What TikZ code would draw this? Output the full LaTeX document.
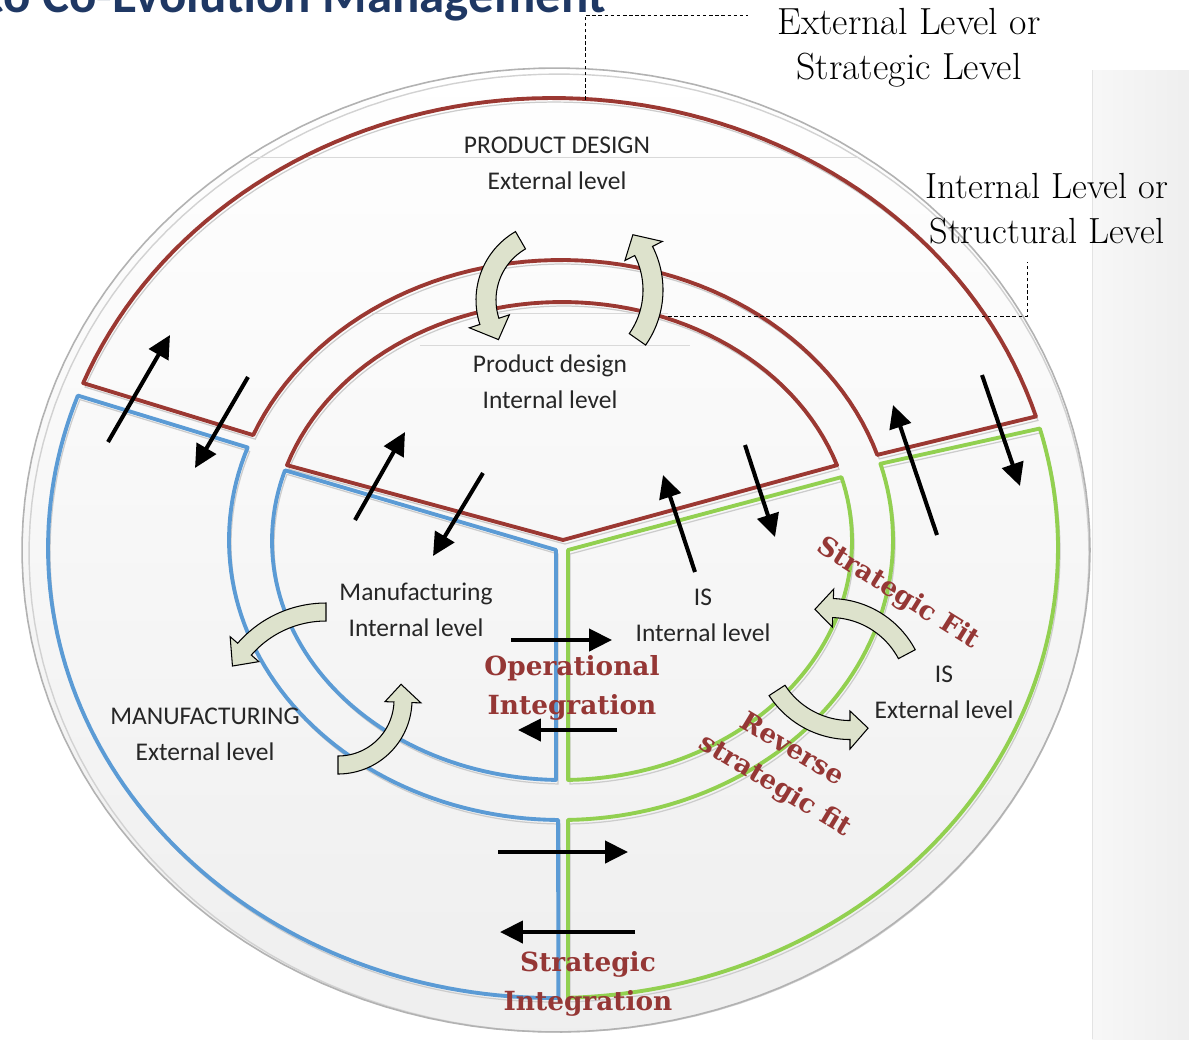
\documentclass[tikz,border=0pt]{standalone}
\usepackage{fontspec}
\newfontfamily\calfont{Carlito}
\newfontfamily\redfont{DejaVu Serif}
\usetikzlibrary{arrows.meta}
\definecolor{pdred}{RGB}{155,56,50}
\definecolor{txtred}{RGB}{149,55,53}
\definecolor{mfblue}{RGB}{91,155,213}
\definecolor{isgreen}{RGB}{146,208,80}
\definecolor{bentfill}{RGB}{221,226,204}
\definecolor{titleblue}{RGB}{31,56,100}
\newcommand\bentarrow[8]{%
  \draw[bentstyle] plot[domain=#4:#5,samples=30] ({#1+(#3+#7/2)*cos(\x)},{#2+(#3+#7/2)*sin(\x)})
   -- ({#1+(#3+#8/2)*cos(#5)},{#2+(#3+#8/2)*sin(#5)})
   -- ({#1+#3*cos(#6)},{#2+#3*sin(#6)})
   -- ({#1+(#3-#8/2)*cos(#5)},{#2+(#3-#8/2)*sin(#5)})
   -- plot[domain=#5:#4,samples=30] ({#1+(#3-#7/2)*cos(\x)},{#2+(#3-#7/2)*sin(\x)})
   -- cycle;}
\begin{document}
\begin{tikzpicture}[x=0.02cm,y=-0.02cm,
  band/.style={line width=2.2pt, line join=round},
  barrow/.style={-{Triangle[length=13pt,width=12.5pt]}, line width=2.3pt, black},
  bentstyle/.style={draw=black, fill=bentfill, line width=0.6pt, line join=miter},
  leader/.style={draw=black, line width=0.5pt, dash pattern=on 2pt off 1.5pt},
  faint/.style={draw=gray!30, line width=0.5pt},
  lbl/.style={font=\calfont\fontsize{14.5}{20.5}\selectfont, align=center, inner sep=0pt, text=black!85},
  serlbl/.style={font=\fontsize{21.5}{25.5}\selectfont, align=center, inner sep=0pt},
  redlbl/.style={font=\redfont\bfseries\fontsize{15}{22}\selectfont, align=center, inner sep=0pt, text=txtred}]
\useasboundingbox (0,0) rectangle (1189,1039);
\clip (0,0) rectangle (1189,1039);
% background
\fill[white] (0,0) rectangle (1189,1039);
\fill[left color=gray!6, right color=gray!13] (1092,70) rectangle (1189,1039);
\draw[gray!22, line width=0.5pt] (1092,70) -- (1092,1039);
% outer disc
\path[top color=white, bottom color=gray!13] plot[domain=0:360,samples=150] ({556+534*cos(\x)},{550+482*sin(\x)}) -- cycle;
\draw[gray!35, line width=0.8pt] plot[domain=0:360,samples=150] ({559+530*cos(\x)},{553+479*sin(\x)}) -- cycle;
\draw[gray!60, line width=0.9pt] plot[domain=0:360,samples=150] ({556+534*cos(\x)},{550+482*sin(\x)}) -- cycle;
% faint text-box edges
\draw[faint] (250,157) -- (858,157);
\draw[faint] (372,313) -- (668,313);
\draw[faint] (420,345) -- (690,345);
% shadows of bands
\begin{scope}[shift={(2,4)}]
\draw[gray!40, line width=0.7pt] plot[domain=201.5:343,samples=80] ({553+505*cos(\x)},{548+450*sin(\x)}) -- plot[domain=342.3:202,samples=60] ({561+332*cos(\x)},{540+280*sin(\x)}) -- cycle;
\draw[gray!40, line width=0.7pt] plot[domain=199.8:89.4,samples=80] ({553+505*cos(\x)},{548+450*sin(\x)}) -- plot[domain=90.5:199.3,samples=60] ({561+332*cos(\x)},{540+280*sin(\x)}) -- cycle;
\draw[gray!40, line width=0.7pt] plot[domain=88.3:-15.4,samples=80] ({553+505*cos(\x)},{548+450*sin(\x)}) -- plot[domain=-15.8:88.8,samples=60] ({561+332*cos(\x)},{540+280*sin(\x)}) -- cycle;
\draw[gray!40, line width=0.7pt] plot[domain=198.5:341.5,samples=60] ({562+290*cos(\x)},{541+239*sin(\x)}) -- (563,540) -- cycle;
\draw[gray!40, line width=0.7pt] (556,550) -- plot[domain=197.2:91.2,samples=60] ({562+290*cos(\x)},{541+239*sin(\x)}) -- cycle;
\draw[gray!40, line width=0.7pt] (568,550) -- plot[domain=-15.5:88.8,samples=60] ({562+290*cos(\x)},{541+239*sin(\x)}) -- cycle;
\end{scope}
% product design bands (red)
\draw[band, pdred] plot[domain=201.5:343,samples=80] ({553+505*cos(\x)},{548+450*sin(\x)}) -- plot[domain=342.3:202,samples=60] ({561+332*cos(\x)},{540+280*sin(\x)}) -- cycle;
\draw[band, pdred] plot[domain=198.5:341.5,samples=60] ({562+290*cos(\x)},{541+239*sin(\x)}) -- (563,540) -- cycle;
% manufacturing bands (blue)
\draw[band, mfblue] plot[domain=199.8:89.4,samples=80] ({553+505*cos(\x)},{548+450*sin(\x)}) -- plot[domain=90.5:199.3,samples=60] ({561+332*cos(\x)},{540+280*sin(\x)}) -- cycle;
\draw[band, mfblue] (556,550) -- plot[domain=197.2:91.2,samples=60] ({562+290*cos(\x)},{541+239*sin(\x)}) -- cycle;
% IS bands (green)
\draw[band, isgreen] plot[domain=88.3:-15.4,samples=80] ({553+505*cos(\x)},{548+450*sin(\x)}) -- plot[domain=-15.8:88.8,samples=60] ({561+332*cos(\x)},{540+280*sin(\x)}) -- cycle;
\draw[band, isgreen] (568,550) -- plot[domain=-15.5:88.8,samples=60] ({562+290*cos(\x)},{541+239*sin(\x)}) -- cycle;
% leader lines
\coordinate (la1) at (585,100); \coordinate (la2) at (585,15); \coordinate (la3) at (748,15);
\draw[leader] (la1) -- (la2) -- (la3);
\coordinate (lb1) at (668,316); \coordinate (lb2) at (1027,316); \coordinate (lb3) at (1027,262);
\draw[leader] (lb1) -- (lb2) -- (lb3);
% straight arrows
\coordinate (s1a) at (108,442); \coordinate (s1b) at (170,335);
\coordinate (s2a) at (248,377); \coordinate (s2b) at (195,468);
\coordinate (s3a) at (355,520); \coordinate (s3b) at (405,432);
\coordinate (s4a) at (483,473); \coordinate (s4b) at (433,556);
\coordinate (s5a) at (695,572); \coordinate (s5b) at (663,475);
\coordinate (s6a) at (745,445); \coordinate (s6b) at (775,537);
\coordinate (s7a) at (937,535); \coordinate (s7b) at (893,405);
\coordinate (s8a) at (982,375); \coordinate (s8b) at (1020,486);
\coordinate (o1a) at (511,640); \coordinate (o1b) at (612,640);
\coordinate (o2a) at (617,730); \coordinate (o2b) at (518,730);
\coordinate (g1a) at (498,852); \coordinate (g1b) at (628,852);
\coordinate (g2a) at (635,932); \coordinate (g2b) at (500,932);
\foreach \p in {s1,s2,s3,s4,s5,s6,s7,s8,o1,o2,g1,g2}{\draw[barrow] (\p a) -- (\p b);}
% curved block arrows
\bentarrow{555}{300}{69}{240}{162}{145}{20}{42}
\bentarrow{567}{290}{86}{35}{-27}{-40}{20}{42}
\bentarrow{326}{720}{108}{270}{221}{210}{18}{38}
\bentarrow{338}{700}{65}{90}{2}{-14}{18}{36}
\bentarrow{830}{695}{87}{-28}{-88}{-100}{19}{38}
\bentarrow{850}{643}{87}{147}{90}{78}{19}{38}
% title
\node[anchor=base east, inner sep=0pt, font=\calfont\bfseries\fontsize{29}{34}\selectfont, text=titleblue] (title) at (606,12) {to Co-Evolution Management};
% labels
\node[serlbl] (extlev) at (909,48) {External Level or\\Strategic Level};
\node[serlbl, font=\fontsize{20.7}{25.5}\selectfont] (intlev) at (1047,209) {Internal Level or\\Structural Level};
\node[lbl] (pdext) at (557,163) {PRODUCT DESIGN\\External level};
\node[lbl] (pdint) at (550,382) {Product design\\Internal level};
\node[lbl] (mfint) at (416,610) {Manufacturing\\Internal level};
\node[lbl] (isint) at (703,615) {IS\\Internal level};
\node[lbl] (isext) at (944,692) {IS\\External level};
\node[lbl] (mfext) at (205,734) {MANUFACTURING\\External level};
\node[redlbl] (opint) at (572,688) {Operational\\Integration};
\node[redlbl] (strint) at (588,984) {Strategic\\Integration};
\node[redlbl, rotate=-32] (sfit) at (898,594) {Strategic Fit};
\node[redlbl, rotate=-31] (rev) at (793,748) {Reverse};
\node[redlbl, rotate=-31] (rsfit) at (775,786) {strategic fit};
\end{tikzpicture}
\end{document}
